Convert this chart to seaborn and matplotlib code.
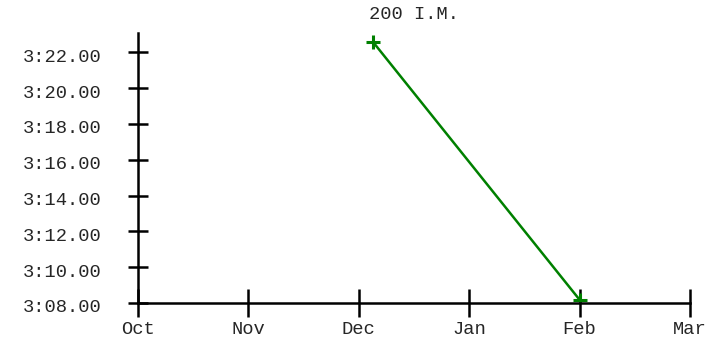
import matplotlib
matplotlib.use("Agg")
import matplotlib.pyplot as plt
import matplotlib.transforms as mtransforms
import seaborn as sns
import pandas as pd
from matplotlib.ticker import FuncFormatter

# data: swims of the 200 I.M. (position in months since Oct, time)
month_labels = ["Oct", "Nov", "Dec", "Jan", "Feb", "Mar"]
swim_month = [2.13, 4.0]
swim_time = ["3:22.57", "3:08.18"]
ytick_times = ["3:08.00", "3:10.00", "3:12.00", "3:14.00",
               "3:16.00", "3:18.00", "3:20.00", "3:22.00"]


def to_sec(t):
    m, s = t.split(":")
    return int(m) * 60 + float(s)


def fmt_time(v, pos=None):
    m = int(v // 60)
    return f"{m}:{v - m * 60:05.2f}"


df = pd.DataFrame({"month": swim_month, "sec": [to_sec(t) for t in swim_time]})

sns.set_style("white")
plt.rcParams["font.family"] = ["Liberation Mono", "DejaVu Sans Mono"]

fig = plt.figure(figsize=(7.27, 3.43), dpi=100)
ax = fig.add_axes([138 / 727, 1 - 303 / 343, (690 - 138) / 727, (303 - 33) / 343])

sns.lineplot(data=df, x="month", y="sec", ax=ax, color="#008000", linewidth=1.8,
             marker="+", markersize=10, markeredgewidth=2.2, markeredgecolor="#008000")

ax.set_xlim(0, len(month_labels) - 1)
ax.set_ylim(to_sec("3:08.00"), to_sec("3:23.08"))
ax.set_xticks(range(len(month_labels)))
ax.set_xticklabels(month_labels)
ax.set_yticks([to_sec(t) for t in ytick_times])
ax.yaxis.set_major_formatter(FuncFormatter(fmt_time))

for side in ["top", "right"]:
    ax.spines[side].set_visible(False)
for side in ["left", "bottom"]:
    ax.spines[side].set_linewidth(1.8)
    ax.spines[side].set_color("black")

ax.tick_params(axis="y", left=True, direction="inout", length=14, width=1.8,
               labelsize=13.5, pad=19, color="black")
ax.tick_params(axis="x", bottom=True, direction="inout", length=20, width=1.8,
               labelsize=13.5, pad=3, color="black")

# y labels sit a little below their ticks in the reference
shift = mtransforms.ScaledTranslation(0, -3 / 100, fig.dpi_scale_trans)
for lab in ax.get_yticklabels():
    lab.set_transform(lab.get_transform() + shift)

ax.set_xlabel("")
ax.set_ylabel("")
ax.set_title("200 I.M.", fontsize=13.5, pad=10)

fig.savefig("out.png", dpi=100)
